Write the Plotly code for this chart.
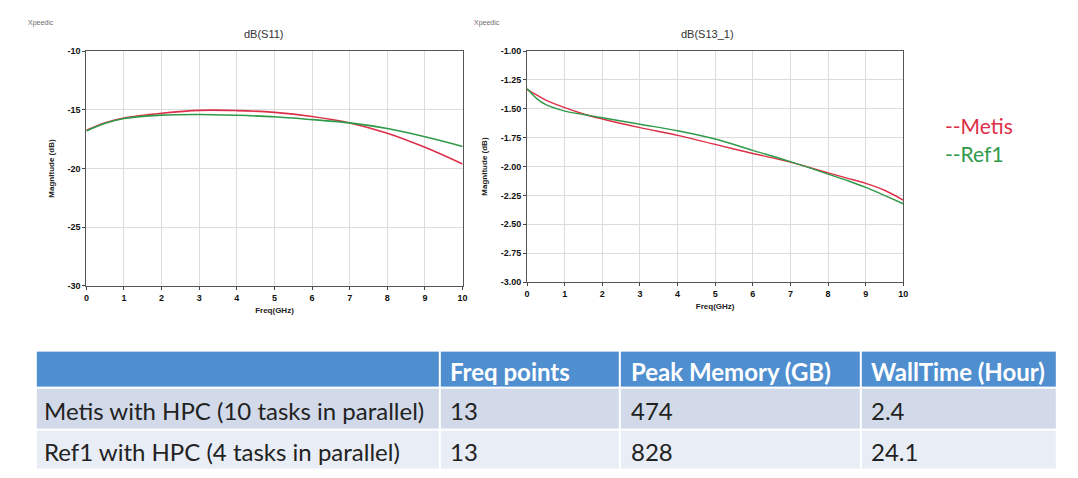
import plotly.graph_objects as go

W, H = 1078, 478

# ---------------- data ----------------
freq = [0, 0.5, 1, 2, 3, 4, 5, 6, 7, 8, 9, 10]

s11_metis = [-16.75, -16.1, -15.70, -15.30, -15.05, -15.07, -15.22, -15.57, -16.12, -17.00, -18.20, -19.62]
s11_ref1 = [-16.80, -16.15, -15.75, -15.46, -15.40, -15.47, -15.60, -15.84, -16.12, -16.60, -17.30, -18.12]

s13_freq = [0, 0.25, 0.5, 1, 1.5, 2, 3, 4, 5, 6, 7, 8, 8.5, 9, 9.5, 10]
s13_metis = [-1.335, -1.38, -1.425, -1.49, -1.545, -1.588, -1.663, -1.730, -1.808, -1.887, -1.962, -2.055, -2.100, -2.145, -2.205, -2.29]
s13_ref1 = [-1.325, -1.41, -1.465, -1.52, -1.55, -1.578, -1.634, -1.690, -1.762, -1.860, -1.958, -2.065, -2.120, -2.180, -2.250, -2.322]

s11_yticks = [-30, -25, -20, -15, -10]
s11_yticktext = ["-30", "-25", "-20", "-15", "-10"]
s13_yticks = [-3.00, -2.75, -2.50, -2.25, -2.00, -1.75, -1.50, -1.25, -1.00]
s13_yticktext = ["-3.00", "-2.75", "-2.50", "-2.25", "-2.00", "-1.75", "-1.50", "-1.25", "-1.00"]
xticks = list(range(0, 11))

table_header = ["", "Freq points", "Peak Memory (GB)", "WallTime (Hour)"]
table_rows = ["Metis with HPC (10 tasks in parallel)", "Ref1 with HPC (4 tasks in parallel)"]
freq_points = ["13", "13"]
peak_memory = ["474", "828"]
walltime = ["2.4", "24.1"]

series_names = ["Metis", "Ref1"]

# ---------------- style / layout constants ----------------
RED = "#dc2f48"
GREEN = "#2f9a48"
HEADER_BLUE = "#4f8fd0"
ROW_A = "#d2daea"
ROW_B = "#e9edf5"

# table geometry (pixels): column widths and row heights
col_w = [407, 181, 243, 198]
row_h = [38, 43, 41]
TABLE_LEFT, TABLE_TOP = 33, 353


def px_x(a, b):
    return [a / W, b / W]


def px_y(top, bottom):
    return [(H - bottom) / H, (H - top) / H]


fig = go.Figure()

fig.add_trace(go.Scatter(x=freq, y=s11_metis, mode="lines", line=dict(color=RED, width=1.6, shape="spline"),
                         name=series_names[0], xaxis="x", yaxis="y", showlegend=False))
fig.add_trace(go.Scatter(x=freq, y=s11_ref1, mode="lines", line=dict(color=GREEN, width=1.6, shape="spline"),
                         name=series_names[1], xaxis="x", yaxis="y", showlegend=False))
fig.add_trace(go.Scatter(x=s13_freq, y=s13_metis, mode="lines", line=dict(color=RED, width=1.4, shape="spline"),
                         name=series_names[0], xaxis="x2", yaxis="y2", showlegend=False))
fig.add_trace(go.Scatter(x=s13_freq, y=s13_ref1, mode="lines", line=dict(color=GREEN, width=1.4, shape="spline"),
                         name=series_names[1], xaxis="x2", yaxis="y2", showlegend=False))

# ---- table as a heatmap of cell fills + text annotations ----
x_edges = [0]
for w in col_w:
    x_edges.append(x_edges[-1] + w)
y_edges = [0]
for h in row_h:
    y_edges.append(y_edges[-1] + h)

body_cols = [table_rows, freq_points, peak_memory, walltime]
z = [[0] * len(table_header)] + [[1 + (r % 2)] * len(table_header) for r in range(len(table_rows))]

fig.add_trace(go.Heatmap(
    x=x_edges, y=y_edges, z=z, xaxis="x3", yaxis="y3",
    colorscale=[[0, HEADER_BLUE], [0.5, ROW_A], [1, ROW_B]], zmin=0, zmax=2,
    showscale=False, xgap=2, ygap=2, hoverinfo="skip",
))

table_w = x_edges[-1]
table_h = y_edges[-1]

annotations = []
pads = [6, 8, 10, 8]
for c, head in enumerate(table_header):
    if head:
        annotations.append(dict(text=head, x=x_edges[c] + pads[c], y=(y_edges[0] + y_edges[1]) / 2 + 2,
                                xref="x3", yref="y3", xanchor="left", yanchor="middle", showarrow=False,
                                font=dict(family="Lato", size=24, color="white", weight="bold")))
    for r in range(len(table_rows)):
        annotations.append(dict(text=body_cols[c][r], x=x_edges[c] + pads[c],
                                y=(y_edges[r + 1] + y_edges[r + 2]) / 2 + 2,
                                xref="x3", yref="y3", xanchor="left", yanchor="middle", showarrow=False,
                                font=dict(family="Lato", size=24, color="#222222")))

tickfont = dict(family="Liberation Sans", size=9, color="#111111", weight="bold")
titlefont = dict(family="Liberation Sans", size=8, color="#222222", weight="bold")
common_x = dict(range=[0, 10], tickvals=xticks, showgrid=True, gridcolor="#dcdcdc", gridwidth=1,
                showline=True, linecolor="#555555", linewidth=1, mirror=True, ticks="outside",
                ticklen=3, tickcolor="#444444", zeroline=False, tickfont=tickfont,
                title=dict(text="Freq(GHz)", font=titlefont, standoff=5))
common_y = dict(showgrid=True, gridcolor="#dcdcdc", showline=True, linecolor="#555555", linewidth=1,
                mirror=True, ticks="outside", ticklen=3, tickcolor="#444444", zeroline=False,
                tickfont=tickfont, title=dict(text="Magnitude (dB)", font=titlefont, standoff=11))

fig.update_layout(
    width=W, height=H, margin=dict(l=0, r=0, t=0, b=0),
    paper_bgcolor="white", plot_bgcolor="white",
    xaxis=dict(domain=px_x(84, 463), anchor="y", **common_x),
    yaxis=dict(domain=px_y(47, 287), anchor="x", range=[-30, -10], tickvals=s11_yticks,
               ticktext=s11_yticktext, **common_y),
    xaxis2=dict(domain=px_x(528, 907), anchor="y2", **common_x),
    yaxis2=dict(domain=px_y(47, 283), anchor="x2", range=[-3, -1], tickvals=s13_yticks,
                ticktext=s13_yticktext, **common_y),
    xaxis3=dict(domain=px_x(TABLE_LEFT, TABLE_LEFT + table_w), anchor="y3", range=[0, table_w],
                visible=False, fixedrange=True),
    yaxis3=dict(domain=px_y(TABLE_TOP, TABLE_TOP + table_h), anchor="x3", range=[table_h, 0],
                visible=False, fixedrange=True),
)

paper_ann = [
    dict(text="dB(S11)", x=263 / W, y=(H - 30) / H, font=dict(family="Liberation Sans", size=11, color="#333333")),
    dict(text="dB(S13_1)", x=710 / W, y=(H - 30) / H, font=dict(family="Liberation Sans", size=11, color="#333333")),
    dict(text="Xpeedic", x=38 / W, y=(H - 18) / H, font=dict(family="Liberation Sans", size=7, color="#6e6e6e")),
    dict(text="Xpeedic", x=488 / W, y=(H - 18) / H, font=dict(family="Liberation Sans", size=7, color="#6e6e6e")),
    dict(text="--" + series_names[0], x=947 / W, y=(H - 123) / H, xanchor="left",
         font=dict(family="Lato", size=21, color=RED)),
    dict(text="--" + series_names[1], x=947 / W, y=(H - 152) / H, xanchor="left",
         font=dict(family="Lato", size=21, color=GREEN)),
]
for a in paper_ann:
    a.setdefault("xanchor", "center")
    a.update(xref="paper", yref="paper", yanchor="middle", showarrow=False)
annotations.extend(paper_ann)
fig.update_layout(annotations=annotations)

fig.write_html("out.html")
